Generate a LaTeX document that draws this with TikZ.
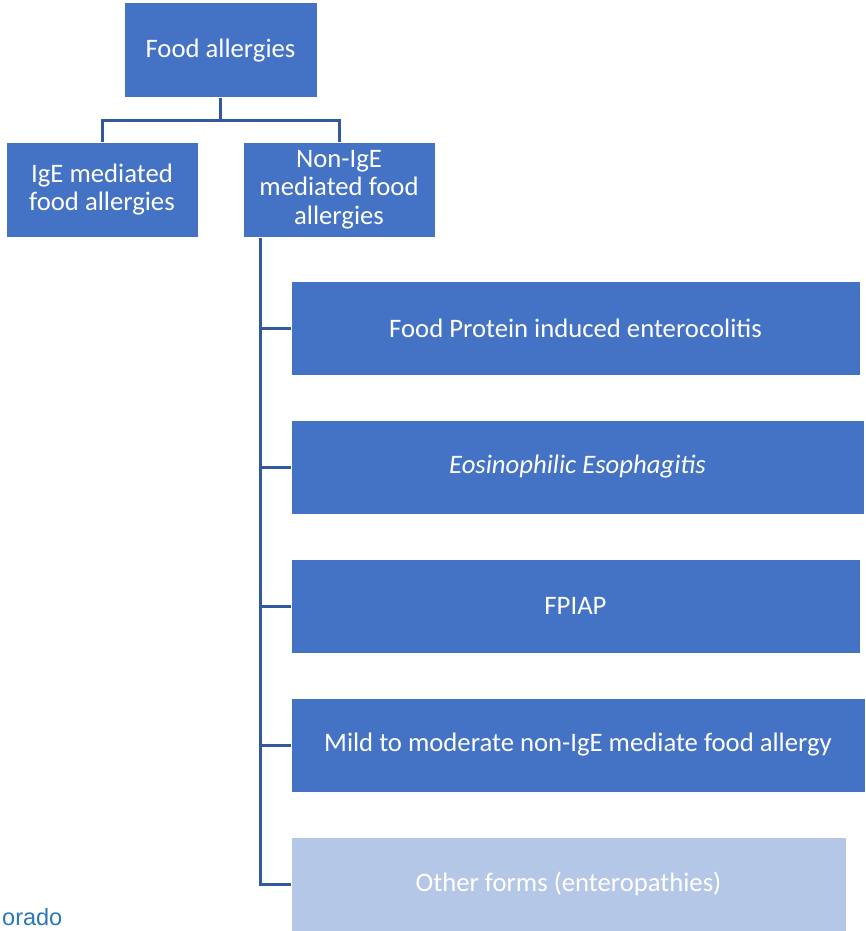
\documentclass[tikz,border=0pt]{standalone}
\usepackage{fontspec}
\setmainfont{Carlito}
\newfontfamily\logofont{Liberation Sans}
\usepackage{tikz}
\definecolor{boxblue}{HTML}{4472C4}
\definecolor{paleblue}{HTML}{B4C7E7}
\definecolor{linkblue}{HTML}{3357A0}
\definecolor{logoblue}{HTML}{2A78B6}

\begin{document}
\begin{tikzpicture}[x=1pt,y=-1pt,
  box/.style={draw=white,line width=1pt,fill=boxblue,text=white,inner sep=0pt,
    align=center,font=\fontsize{26.7}{28.7}\selectfont,minimum height=95pt},
  link/.style={draw=linkblue,line width=3pt}]
\clip (0,0) rectangle (865,931);
\node[box,minimum width=193pt] (root) at (220.5,50.5) {Food allergies};
\node[box,minimum width=192pt] (ige) at (102,189.5) {IgE mediated\\food allergies};
\node[box,minimum width=192pt] (nonige) at (339,189.5) {Non-IgE\\mediated food\\allergies};
\node[box,minimum width=569pt,minimum height=94pt] (fpies) at (575.5,328) {Food Protein induced enterocolitis};
\node[box,minimum width=573pt,minimum height=94pt] (eoe) at (577.5,467) {\itshape Eosinophilic Esophagitis};
\node[box,minimum width=569pt,minimum height=94pt] (fpiap) at (575.5,606) {FPIAP};
\node[box,minimum width=574pt,minimum height=94pt] (mild) at (578,745) {Mild to moderate non-IgE mediate food allergy};
\node[box,fill=paleblue,minimum width=555pt,minimum height=94pt] (other) at (568.5,884) {Other forms (enteropathies)};
\node[anchor=base west,inner sep=0pt,text=logoblue,font=\logofont\fontsize{23.5}{28}\selectfont] (logo) at (2,925) {orado};

\path (root.south) ++(0,22) coordinate (fork);
\draw[link] (root.south) -- (fork);
\draw[link] (ige.north) |- (fork) -| (nonige.north);
\coordinate (trunk) at ([xshift=17.5pt]nonige.south west);
\draw[link] (trunk) |- (other.west);
\draw[link] (fpies.west) -- (fpies.west -| trunk);
\draw[link] (eoe.west) -- (eoe.west -| trunk);
\draw[link] (fpiap.west) -- (fpiap.west -| trunk);
\draw[link] (mild.west) -- (mild.west -| trunk);
\end{tikzpicture}
\end{document}
